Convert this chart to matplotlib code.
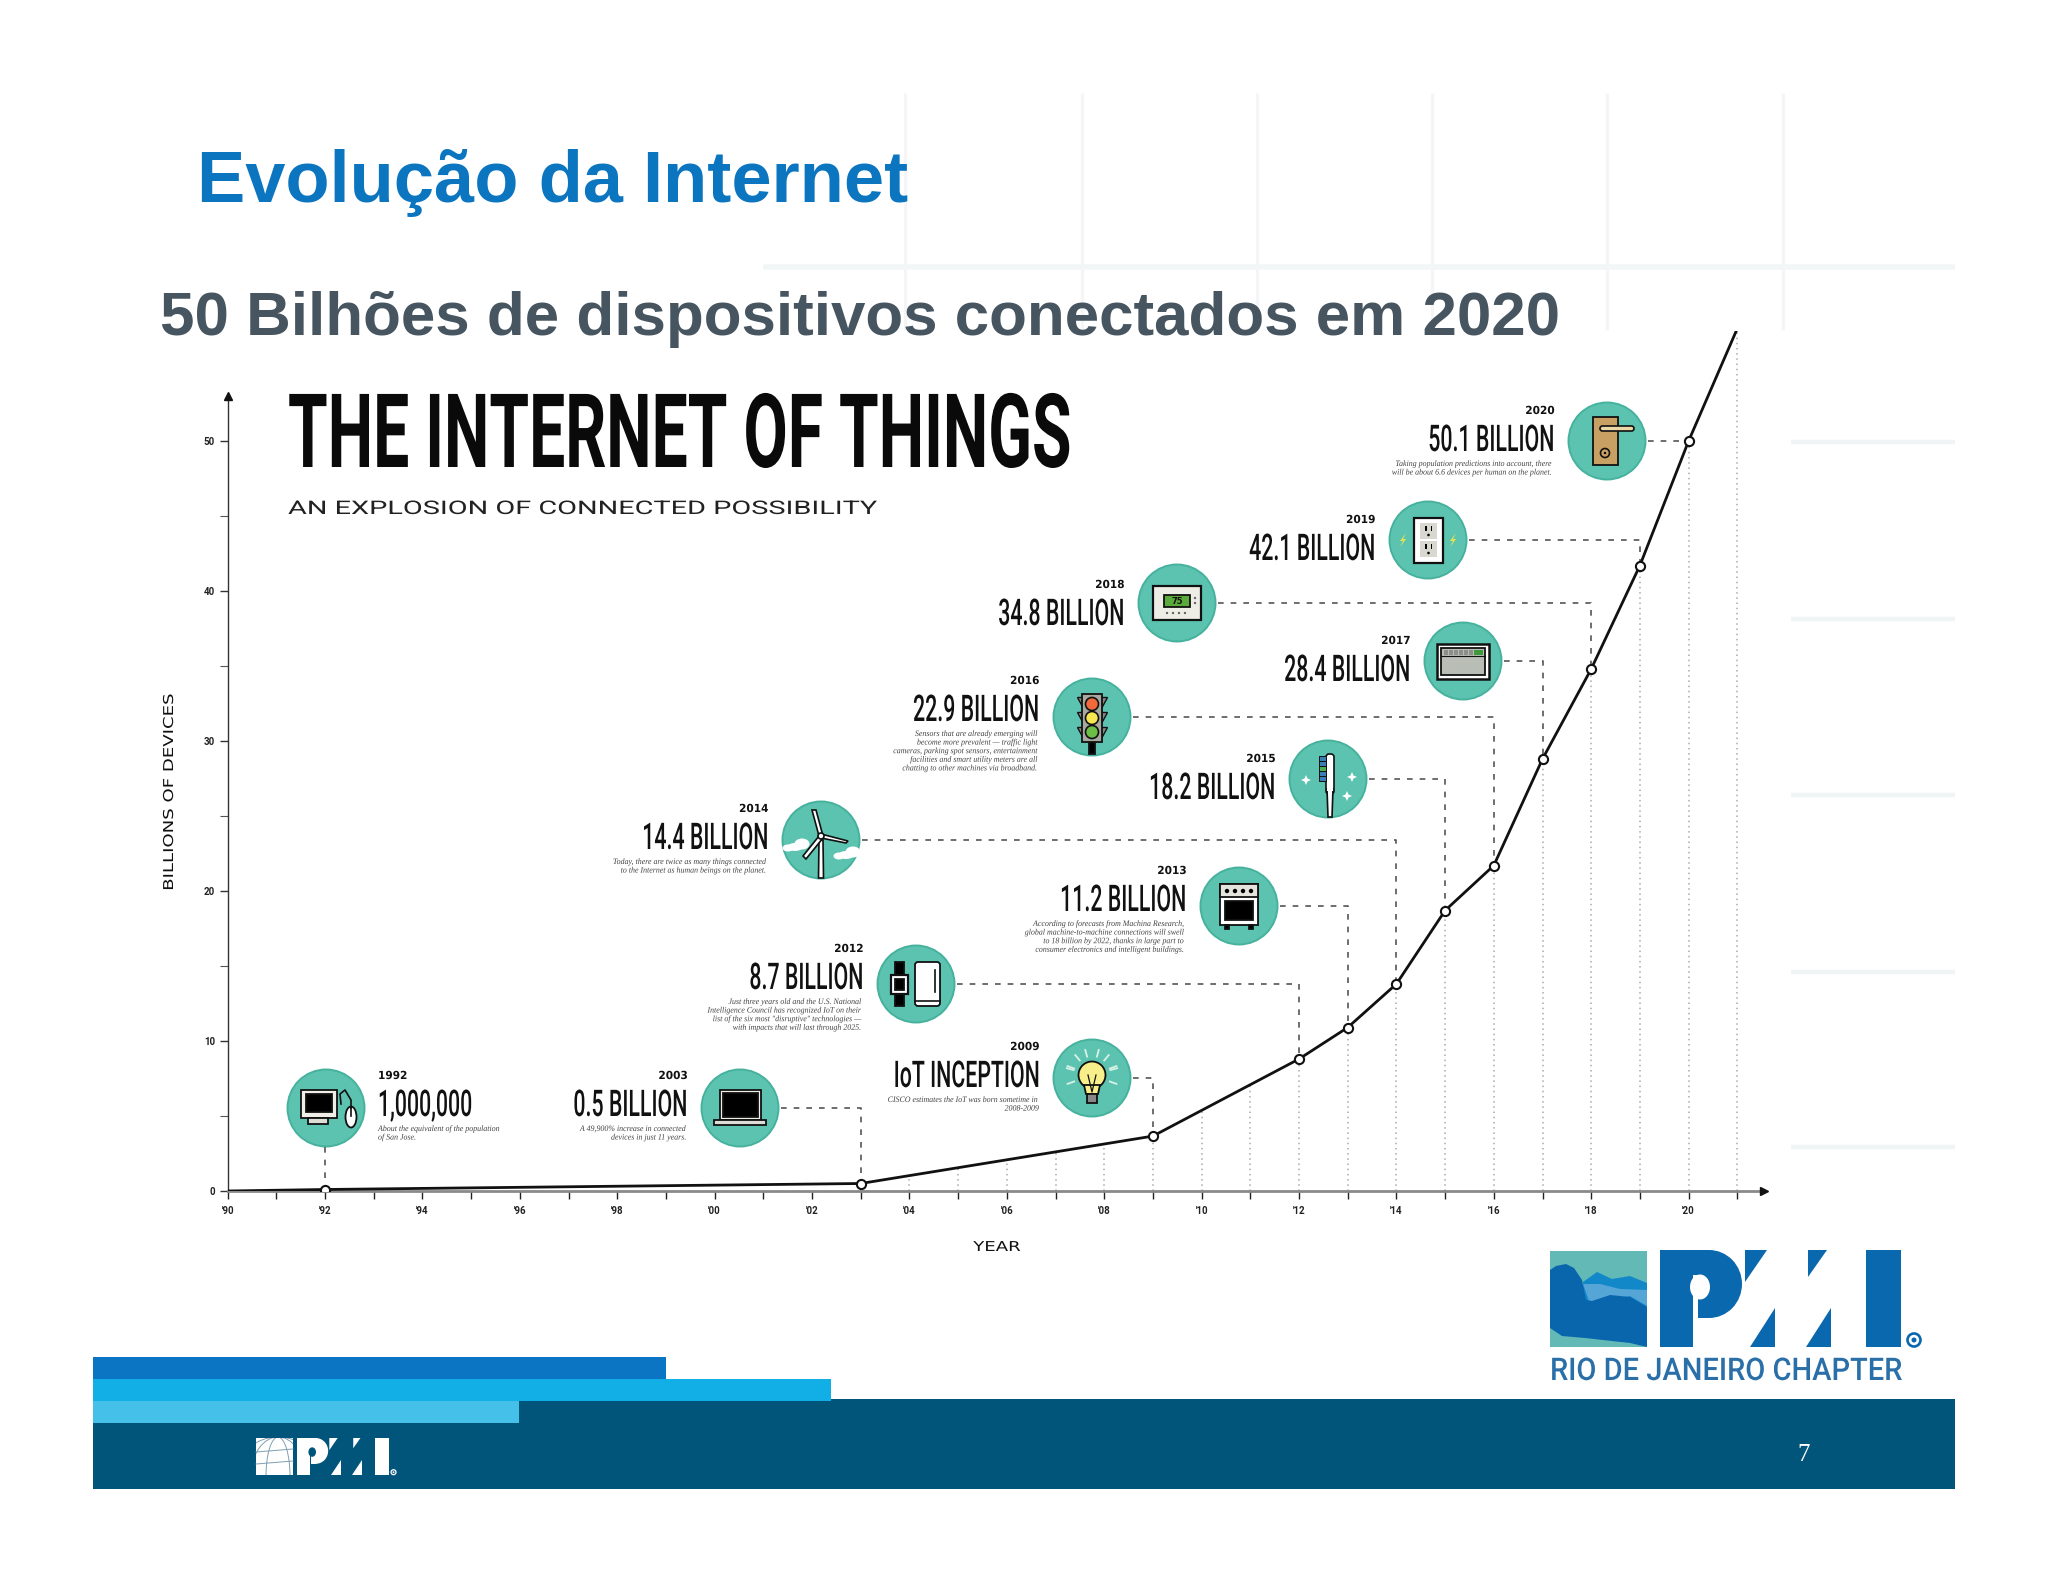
import numpy as np
import matplotlib
matplotlib.use('Agg')
import matplotlib.pyplot as plt
from matplotlib.patches import Rectangle, Circle, Ellipse, Polygon, FancyBboxPatch
from matplotlib.patheffects import AbstractPathEffect
from matplotlib.transforms import Affine2D, Bbox

# line through the chart (year, billions of devices)
line_years = [1990, 1992, 2003, 2009, 2012, 2013, 2014, 2015, 2016, 2017, 2018, 2019, 2020, 2021]
line_vals = [0, 0.1, 0.5, 3.66, 8.8, 10.9, 13.8, 18.7, 21.7, 28.8, 34.8, 41.7, 50, 57.5]

# dotted drop lines, each one stops at the curve
grid_years = list(range(2004, 2022))
grid_tops = [1.0, 1.55, 2.1, 2.6, 3.1, 3.66, 5.4, 7.1, 8.8, 10.9, 13.8, 18.7, 21.7, 28.8, 34.8, 41.7, 50, 57.5]

tick_years = list(range(1990, 2022))
x_labels = ["'90", '', "'92", '', "'94", '', "'96", '', "'98", '', "'00", '', "'02", '', "'04", '', "'06", '', "'08", '',
            "'10", '', "'12", '', "'14", '', "'16", '', "'18", '', "'20", '']
y_label_vals = [0, 10, 20, 30, 40, 50]

call_years = [1992, 2003, 2009, 2012, 2013, 2014, 2015, 2016, 2017, 2018, 2019, 2020]
call_vals = [0.1, 0.5, 3.66, 8.8, 10.9, 13.8, 18.7, 21.7, 28.8, 34.8, 41.7, 50]
call_names = ['1,000,000', '0.5 BILLION', 'IoT INCEPTION', '8.7 BILLION', '11.2 BILLION', '14.4 BILLION',
              '18.2 BILLION', '22.9 BILLION', '28.4 BILLION', '34.8 BILLION', '42.1 BILLION', '50.1 BILLION']
call_notes = [
    'About the equivalent of the population\nof San Jose.',
    'A 49,900% increase in connected\ndevices in just 11 years.',
    'CISCO estimates the IoT was born sometime in\n2008-2009',
    'Just three years old and the U.S. National\nIntelligence Council has recognized IoT on their\n'
    'list of the six most "disruptive" technologies \u2014\nwith impacts that will last through 2025.',
    'According to forecasts from Machina Research,\nglobal machine-to-machine connections will swell\n'
    'to 18 billion by 2022, thanks in large part to\nconsumer electronics and intelligent buildings.',
    'Today, there are twice as many things connected\nto the Internet as human beings on the planet.',
    '',
    'Sensors that are already emerging will\nbecome more prevalent \u2014 traffic light\n'
    'cameras, parking spot sensors, entertainment\nfacilities and smart utility meters are all\n'
    'chatting to other machines via broadband.',
    '',
    '',
    '',
    'Taking population predictions into account, there\nwill be about 6.6 devices per human on the planet.',
]

# layout, in pixels of the picture
icon_x = [326, 740, 1092, 916, 1239, 821, 1328, 1092, 1463, 1177, 1428, 1607]
icon_y = [1108, 1108, 1078, 984, 906, 840, 779, 717, 661, 603, 540, 441]
name_base = [1116, 1116, 1087, 989, 911, 849, 799, 721, 681, 625, 560, 451]

W, H = 2048, 1582
X0, X1, Y0, Y1 = 227.6, 1764, 1191, 331
TEAL = '#5CC3B1'
BLACK = '#111111'


class Squeeze(AbstractPathEffect):
    # no condensed font here, so scale the glyphs around an anchor point (display pixels)
    def __init__(self, ax_, ay_, kx, ky):
        super().__init__()
        self.t = Affine2D().translate(-ax_, -ay_).scale(kx, ky).translate(ax_, ay_)

    def draw_path(self, renderer, gc, tpath, affine, rgbFace=None):
        renderer.draw_path(gc, tpath, affine + self.t, rgbFace)


def squeeze_text(t, ax_, ay_, kx=1.0, ky=1.0):
    # effect plus an extent that reports what is really drawn
    t.set_path_effects([Squeeze(ax_, ay_, kx, ky)])
    orig = t.get_window_extent

    def extent(renderer=None, dpi=None):
        b = orig(renderer, dpi)
        return Bbox.from_extents(ax_ + (b.x0 - ax_) * kx, ay_ + (b.y0 - ay_) * ky,
                                 ax_ + (b.x1 - ax_) * kx, ay_ + (b.y1 - ay_) * ky)
    t.get_window_extent = extent


fig = plt.figure(figsize=(W / 100, H / 100), dpi=100, facecolor='white')
bg = fig.add_axes([0, 0, 1, 1], zorder=0)
bg.set_xlim(0, W)
bg.set_ylim(H, 0)
bg.axis('off')


def txt(x, y, s, size, sx=1.0, sy=1.0, ha='left', va='baseline', family='Roboto', **kw):
    t = bg.text(x, y, s, fontsize=size, ha=ha, va=va, family=family, **kw)
    if sx != 1.0 or sy != 1.0:
        squeeze_text(t, x, H - y, sx, sy)
    return t


def rect(x, y, w, h, fc='white', ec=BLACK, lw=1.3, **kw):
    return bg.add_patch(Rectangle((x, y), w, h, fc=fc, ec=ec, lw=lw, **kw))


def poly(pts, fc='white', ec='none', lw=1.0):
    bg.add_patch(Polygon(pts, closed=True, fc=fc, ec=ec, lw=lw))


def disc(x, y, r, fc='white', ec='none', lw=1.0):
    bg.add_patch(Circle((x, y), r, fc=fc, ec=ec, lw=lw))


def pmi_letters(x0, y0, s, col, back):
    # letters P, M, I from one set of shapes
    rect(x0, y0, 33 * s, 97 * s, fc=col, ec='none')
    bg.add_patch(Ellipse((x0 + 49 * s, y0 + 34 * s), 66 * s, 68 * s, fc=col, ec='none'))
    rect(x0 + 33 * s, y0, 16 * s, 68 * s, fc=col, ec='none')
    rect(x0 + 33 * s, y0 + 25 * s, 5 * s, 44 * s, fc=back, ec='none')
    bg.add_patch(Ellipse((x0 + 40 * s, y0 + 37 * s), 20 * s, 25 * s, fc=back, ec='none'))
    for pts in ([(85, 0), (107, 0), (85, 32)], [(90, 97), (115, 97), (115, 58)],
                [(148, 27), (167, 0), (148, 0)], [(146, 97), (171, 97), (171, 58)]):
        poly([(x0 + a * s, y0 + b * s) for a, b in pts], fc=col)
    rect(x0 + 206 * s, y0, 35 * s, 97 * s, fc=col, ec='none')
    disc(x0 + 254 * s, y0 + 90 * s, 6.5 * s, fc=back, ec=col, lw=1.6 * s + 0.3)
    disc(x0 + 254 * s, y0 + 90 * s, 2.5 * s, fc=col)


# icons, all drawn around the centre of a circle
def ic_monitor(x, y):
    rect(x - 25, y - 18, 36, 28, fc='#EFEFE8')
    rect(x - 20, y - 14, 26, 18, fc='black')
    rect(x - 18, y + 10, 20, 6, fc='#DDDDD5')
    bg.plot([x + 15, x + 14, x + 19, x + 25, x + 25], [y - 4, y - 14, y - 18, y - 8, y], color=BLACK, lw=1.2)
    bg.add_patch(Ellipse((x + 25, y + 9), 11, 21, fc='white', ec=BLACK, lw=1.3))
    bg.plot([x + 25, x + 25], [y, y + 8], color=BLACK, lw=1.2)


def ic_laptop(x, y):
    rect(x - 20, y - 18, 41, 30, fc='#EFEFE8')
    rect(x - 17, y - 15, 35, 24, fc='black')
    rect(x - 26, y + 12, 52, 5, fc='#DDDDD5')


def ic_bulb(x, y):
    for a in np.radians([-160, -130, -105, -75, -50, -20, 20, 160, 195, 345]):
        bg.plot([x + 19 * np.cos(a), x + 26 * np.cos(a)], [y - 3 + 19 * np.sin(a), y - 3 + 26 * np.sin(a)],
                color='#D8F2E6', lw=1.3)
    bg.add_patch(Ellipse((x, y - 3), 27, 27, fc='#F8EE8A', ec=BLACK, lw=1.3))
    poly([(x - 8, y + 7), (x + 8, y + 7), (x + 6, y + 16), (x - 6, y + 16)], fc='#F8EE8A', ec=BLACK, lw=1.3)
    rect(x - 5, y + 16, 10, 9, fc='#888888')
    bg.plot([x - 4, x, x + 4], [y - 3, y + 14, y - 3], color=BLACK, lw=0.9)


def ic_watch_fridge(x, y):
    rect(x - 21, y - 22, 9, 44, fc='black')
    rect(x - 25, y - 9, 17, 19, fc='white', lw=1.6)
    rect(x - 21, y - 5, 9, 11, fc='black')
    bg.add_patch(FancyBboxPatch((x - 1, y - 22), 25, 44, boxstyle='round,pad=0,rounding_size=3',
                                fc='white', ec=BLACK, lw=1.3))
    bg.plot([x - 1, x + 24], [y + 17, y + 17], color=BLACK, lw=1.2)
    bg.plot([x + 19, x + 19], [y - 14, y + 8], color=BLACK, lw=1.2)


def ic_stove(x, y):
    rect(x - 19, y - 22, 38, 41, fc='white')
    rect(x - 19, y - 22, 38, 13, fc='#E4E4DC')
    for dx in (-12, -4, 4, 12):
        disc(x + dx, y - 15, 2.2, fc='black')
    rect(x - 14, y - 5, 28, 19, fc='black')
    rect(x - 14, y + 19, 4, 4, fc='black')
    rect(x + 10, y + 19, 4, 4, fc='black')


def ic_turbine(x, y):
    for cx, cy in ((x - 26, y + 7), (x + 25, y + 15)):
        bg.add_patch(Ellipse((cx, cy), 15, 8, fc='white', ec='none'))
        bg.add_patch(Ellipse((cx + 7, cy - 3), 15, 11, fc='white', ec='none'))
        bg.add_patch(Ellipse((cx - 7, cy + 1), 11, 7, fc='white', ec='none'))
    poly([(x - 2, y), (x + 2, y), (x + 2.5, y + 38), (x - 2.5, y + 38)], fc='white', ec=BLACK, lw=1.2)
    hx, hy = x, y - 4
    poly([(hx - 2, hy), (x - 9, y - 30), (x - 5, y - 30), (hx + 2, hy)], fc='white', ec=BLACK, lw=1.2)
    poly([(hx, hy - 2), (x + 27, y + 1), (x + 25, y + 3), (hx, hy + 2)], fc='white', ec=BLACK, lw=1.2)
    poly([(hx - 2, hy), (x - 18, y + 16), (x - 15, y + 19), (hx + 2, hy + 2)], fc='white', ec=BLACK, lw=1.2)
    disc(hx, hy, 3, fc='white', ec=BLACK, lw=1.2)


def ic_brush(x, y):
    bg.add_patch(FancyBboxPatch((x - 2, y - 25), 8, 40, boxstyle='round,pad=0,rounding_size=3',
                                fc='white', ec=BLACK, lw=1.2))
    poly([(x - 1, y + 10), (x + 5, y + 10), (x + 4, y + 38), (x, y + 38)], fc='white', ec=BLACK, lw=1.2)
    rect(x - 0.6, y + 9, 6, 3, fc='white', ec='none')
    for k, c in enumerate(['#3A7EB5', '#3A7EB5', '#4CAF50', '#3A7EB5', '#3A7EB5']):
        rect(x - 9, y - 23 + k * 5, 7, 5, fc=c, lw=0.7)
    for dx, dy in ((-22, 1), (24, -2), (19, 17)):
        poly([(x + dx, y + dy - 5), (x + dx + 1.5, y + dy - 1.5), (x + dx + 5, y + dy), (x + dx + 1.5, y + dy + 1.5),
              (x + dx, y + dy + 5), (x + dx - 1.5, y + dy + 1.5), (x + dx - 5, y + dy), (x + dx - 1.5, y + dy - 1.5)], fc='white')


def ic_light(x, y):
    rect(x - 3, y + 22, 6, 15, fc='black')
    for dy in (-17, -2, 13):
        poly([(x - 15, y + dy - 3), (x - 9, y + dy - 3), (x - 9, y + dy + 8)], fc='#888888', ec=BLACK, lw=1)
        poly([(x + 15, y + dy - 3), (x + 9, y + dy - 3), (x + 9, y + dy + 8)], fc='#888888', ec=BLACK, lw=1)
    rect(x - 10, y - 23, 20, 48, fc='#A8A8A0')
    disc(x, y - 13, 6.5, fc='#F06A3C', ec=BLACK, lw=1.2)
    disc(x, y + 1, 6.5, fc='#F7E552', ec=BLACK, lw=1.2)
    disc(x, y + 15, 6.5, fc='#6DBE45', ec=BLACK, lw=1.2)


def ic_oven(x, y):
    rect(x - 26, y - 17, 52, 35, fc='white', lw=1.8)
    rect(x - 22, y - 13, 44, 27, fc='#B8BDB5')
    for dx in (-19, -14, -9, -4, 1, 6):
        rect(x + dx, y - 11, 3.5, 4.5, fc='#8B8F8A', ec='none')
    rect(x + 11, y - 11, 9, 4.5, fc='#3C9A3A', ec='none')
    bg.plot([x - 22, x + 22], [y - 5, y - 5], color=BLACK, lw=0.8)


def ic_thermostat(x, y):
    rect(x - 24, y - 17, 48, 34, fc='#EDEDE6', lw=1.6)
    rect(x - 13, y - 8, 26, 12, fc='#5BAA3C')
    bg.text(x, y - 2, '75', fontsize=6, ha='center', va='center', family='DejaVu Sans', weight='bold', color=BLACK)
    for dx in (-10, -4, 2, 8):
        disc(x + dx, y + 10, 1.2, fc='#666666')
    disc(x + 18, y - 5, 1.2, fc='#666666')
    disc(x + 18, y, 1.2, fc='#666666')


def ic_outlet(x, y):
    rect(x - 14, y - 22, 29, 45, fc='white', lw=1.6)
    for dy in (-9, 9):
        rect(x - 8, y + dy - 8, 17, 16, fc='#D8D8D0', ec='none')
        rect(x - 3, y + dy - 5, 1.6, 5, fc='black', ec='none')
        rect(x + 2.5, y + dy - 5, 1.6, 5, fc='black', ec='none')
        disc(x + 0.5, y + dy + 4, 1.3, fc='black')
    for dx in (-25, 25):
        poly([(x + dx + 3, y - 7), (x + dx - 3, y + 1), (x + dx, y + 1), (x + dx - 3, y + 7), (x + dx + 3, y - 1), (x + dx, y - 1)],
             fc='#E9E24E')


def ic_door(x, y):
    rect(x - 14, y - 24, 25, 48, fc='#C9A063')
    bg.add_patch(FancyBboxPatch((x - 7, y - 15), 34, 5, boxstyle='round,pad=0,rounding_size=2.5',
                                fc='#EAD9A6', ec=BLACK, lw=1.2))
    disc(x - 2, y + 12, 4.5, fc='#C9A063', ec=BLACK, lw=1.2)
    disc(x - 2, y + 12, 1.2, fc='black')


icon_funcs = [ic_monitor, ic_laptop, ic_bulb, ic_watch_fridge, ic_stove, ic_turbine, ic_brush,
              ic_light, ic_oven, ic_thermostat, ic_outlet, ic_door]

# faint grid in the slide background
for x in [905, 1082, 1257, 1432, 1607, 1783]:
    bg.plot([x, x], [93, 330], color='#F3F5F7', lw=2.2, solid_capstyle='butt')
bg.plot([763, 1955], [267, 267], color='#F3F6F7', lw=4, solid_capstyle='butt')
for y in [442, 619, 795, 972, 1147]:
    bg.plot([1791, 1955], [y, y], color='#F1F4F5', lw=3.2, solid_capstyle='butt')

# slide titles
txt(197, 202, 'Evolu\u00e7\u00e3o da Internet', 52, family='Liberation Sans', weight='bold', color='#0B75C0')
txt(160, 335, '50 Bilh\u00f5es de dispositivos conectados em 2020', 44.6, family='Liberation Sans',
    weight='bold', color='#46555F')

# infographic heading, small nominal size then scaled up so its box stays inside the ink
txt(288, 467, 'THE INTERNET OF THINGS', 40, sx=1.156, sy=1.85, weight='bold', color='#0A0A0A')
txt(288, 514, 'AN EXPLOSION OF CONNECTED POSSIBILITY', 13.5, sx=1.54, color='#222222')

# callouts
for i, yr in enumerate(call_years):
    cx, cy = icon_x[i], icon_y[i]
    disc(cx, cy, 38.5, fc=TEAL, ec='#46B29E', lw=1.4)
    icon_funcs[i](cx, cy)
    base = name_base[i]
    left_side = i == 0
    tx = cx + 52 if left_side else cx - 52.5
    ha = 'left' if left_side else 'right'
    txt(tx, base - 37, str(yr), 8, sx=0.95, ha=ha, family='DejaVu Sans', weight='bold', color=BLACK)
    txt(tx, base, call_names[i], 16, sx=0.96, sy=1.656, ha=ha, weight=500, color=BLACK)
    if call_notes[i]:
        txt(tx, base + 9, call_notes[i], 6, sx=0.95, ha=ha, va='top', family='Liberation Serif',
            style='italic', color='#444444', linespacing=1.1, multialignment=ha)

# slide footer
rect(93, 1399, 1862, 90, fc='#01547A', ec='none')
rect(93, 1357, 573, 22, fc='#0B75C4', ec='none')
rect(93, 1379, 738, 22, fc='#12AEE6', ec='none')
rect(93, 1401, 426, 22, fc='#45C0E8', ec='none')
txt(1804, 1461, '7', 18, ha='center', family='Liberation Serif', color='white')

# small white logo in the footer
square = rect(256, 1438, 37, 37, fc='white', ec='none')
for w in (84, 54, 24):
    e = bg.add_patch(Ellipse((278, 1476), w, 78, fc='none', ec='#7F9FB2', lw=0.7))
    e.set_clip_path(square)
for yy in (1452, 1464):
    bg.plot([256, 293], [yy, yy - 3], color='#7F9FB2', lw=0.7)
pmi_letters(297, 1438, 0.38, 'white', '#01547A')

# Rio de Janeiro logo
rect(1550, 1251, 97, 96, fc='#62B9B5', ec='none')
poly([(1583, 1282), (1597, 1272), (1612, 1279), (1630, 1276), (1647, 1283), (1647, 1310), (1583, 1310)], fc='#1388C9')
poly([(1583, 1284), (1600, 1284), (1620, 1289), (1647, 1290), (1647, 1306), (1630, 1296), (1610, 1300), (1590, 1304)], fc='#55A6D6')
poly([(1550, 1270), (1556, 1266), (1566, 1264), (1574, 1268), (1582, 1280), (1586, 1300), (1592, 1301), (1610, 1295),
      (1630, 1297), (1647, 1307), (1647, 1347), (1630, 1343), (1585, 1338), (1562, 1336), (1550, 1328)], fc='#0A66AC')
pmi_letters(1660, 1250, 1.0, '#0A68AE', 'white')
txt(1550, 1380, 'RIO DE JANEIRO CHAPTER', 22.5, sx=0.93, weight=500, color='#2A6FA8')

# the chart itself
ax = fig.add_axes([X0 / W, (H - Y0) / H, (X1 - X0) / W, (Y0 - Y1) / H], zorder=1)
ax.patch.set_alpha(0)
x_max = 1990 + (X1 - X0) / 48.7
y_max = (Y0 - Y1) / 15.0
ax.set_xlim(1990, x_max)
ax.set_ylim(0, y_max)
for side in ('top', 'right'):
    ax.spines[side].set_visible(False)
ax.spines['left'].set_bounds(0, 53)
ax.spines['left'].set_color('#333333')
ax.spines['left'].set_linewidth(1.0)
ax.spines['bottom'].set_color('#8A8A8A')
ax.spines['bottom'].set_linewidth(2.0)

ax.set_xticks(tick_years, labels=x_labels)
ax.tick_params(axis='x', length=6, width=1.0, pad=5, labelsize=7, labelcolor='#222222', color='#222222')
ax.set_yticks(y_label_vals)
ax.set_yticks([5, 15, 25, 35, 45], minor=True)
ax.tick_params(axis='y', which='major', length=6, width=1.0, pad=3, labelsize=7, labelcolor='#222222', color='#333333')
ax.tick_params(axis='y', which='minor', length=6, width=0.8, color='#555555')
for lab in ax.get_xticklabels() + ax.get_yticklabels():
    lab.set_family('Roboto')
    lab.set_weight('bold')

ax.set_ylabel('BILLIONS OF DEVICES', fontsize=9.8, family='DejaVu Sans', color=BLACK)
ax.yaxis.set_label_coords((169 - X0) / (X1 - X0), (Y0 - 792) / (Y0 - Y1))
ax.set_xlabel('YEAR', fontsize=9.8, family='DejaVu Sans', color=BLACK)
ax.xaxis.set_label_coords((997 - X0) / (X1 - X0), -(1247 - Y0) / (Y0 - Y1))
ax.xaxis.label.set_verticalalignment('center')
ax.yaxis.label.set_verticalalignment('center')
squeeze_text(ax.yaxis.label, 169, H - 792, ky=1.33)
squeeze_text(ax.xaxis.label, 997, H - 1247, kx=1.33)

# axis arrows
ax.plot([x_max], [0], marker='>', ms=6, color=BLACK, clip_on=False, zorder=5)
ax.plot([1990], [53], marker='^', ms=6, color=BLACK, clip_on=False, zorder=5)

ax.vlines(grid_years, 0, grid_tops, colors='#A9A9A9', lw=1.1, linestyles=(0, (1, 2.4)), zorder=1)

# leaders from icons to the points
for i, yr in enumerate(call_years):
    cx, cy = icon_x[i], icon_y[i]
    if i == 0:
        lx = [yr, yr]
        ly = [(Y0 - cy - 39) / 15.0, call_vals[i]]
    else:
        lx = [1990 + (cx + 41 - X0) / 48.7, yr, yr]
        ly = [(Y0 - cy) / 15.0, (Y0 - cy) / 15.0, call_vals[i]]
    ax.plot(lx, ly, color='#555555', lw=1.2, linestyle=(0, (3.4, 4.2)), zorder=2)

ax.plot(line_years, line_vals, color=BLACK, lw=2.0, zorder=3, solid_joinstyle='round')
ax.plot(call_years, call_vals, linestyle='none', marker='o', ms=6.6, mfc='white', mec=BLACK, mew=1.5, zorder=4)

fig.savefig('out.png', dpi=100)
